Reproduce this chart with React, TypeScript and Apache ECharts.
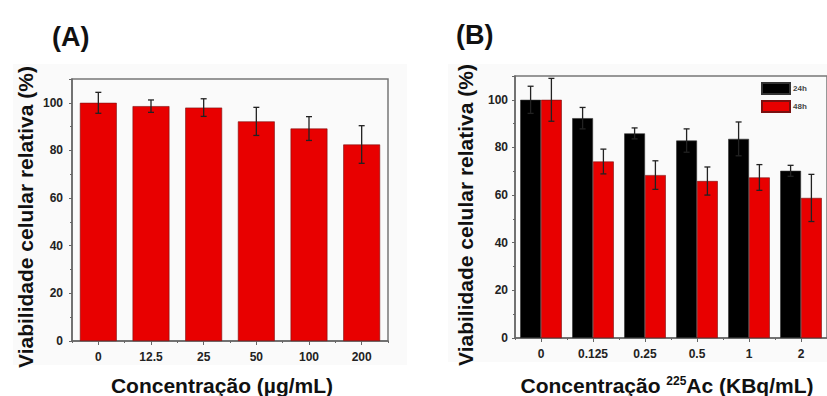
import React, { useEffect, useRef } from "react";
import * as echarts from "echarts";

const catsA = ["0", "12.5", "25", "50", "100", "200"];
const valsA = [100, 98.6, 98.0, 92.2, 89.2, 82.5];
const errA = [4.4, 2.6, 3.7, 5.9, 5.0, 7.9];

const catsB = ["0", "0.125", "0.25", "0.5", "1", "2"];
const vals24 = [100, 92.3, 85.9, 82.9, 83.6, 70.2];
const err24 = [5.7, 4.5, 2.3, 4.9, 7.1, 2.3];
const vals48 = [100, 74.1, 68.4, 65.9, 67.4, 58.8];
const err48 = [9.0, 5.2, 6.0, 5.9, 5.4, 9.9];

const yTicksMax = 110;
const FONT = "'Liberation Sans', Arial, sans-serif";
const RED = "#e80000";
const AXIS = "#666";

function errorSeries(vals: number[], errs: number[], xi: number, yi: number, offFrac: number) {
  return {
    type: "custom",
    xAxisIndex: xi,
    yAxisIndex: yi,
    z: 10,
    silent: true,
    encode: { x: 0, y: 1 },
    data: vals.map((v, i) => [i, v, errs[i]]),
    renderItem: (params: any, api: any) => {
      const idx = api.value(0);
      const v = api.value(1);
      const e = api.value(2);
      const cw = api.size([1, 0])[0];
      const top = api.coord([idx, v + e]);
      const bot = api.coord([idx, v - e]);
      const x = top[0] + offFrac * cw;
      const cap = 3;
      const st = { stroke: "#222", lineWidth: 1.3 };
      return {
        type: "group",
        children: [
          { type: "line", shape: { x1: x, y1: top[1], x2: x, y2: bot[1] }, style: st },
          { type: "line", shape: { x1: x - cap, y1: top[1], x2: x + cap, y2: top[1] }, style: st },
          { type: "line", shape: { x1: x - cap, y1: bot[1], x2: x + cap, y2: bot[1] }, style: st },
        ],
      };
    },
  };
}

function yAxis(gridIndex: number, margin: number) {
  return {
    type: "value",
    gridIndex,
    min: 0,
    max: yTicksMax,
    interval: 20,
    axisLine: { show: true, lineStyle: { color: AXIS, width: 1.5 } },
    axisTick: { show: true, inside: false, length: 3, lineStyle: { color: AXIS } },
    minorTick: { show: true, splitNumber: 2, length: 2, lineStyle: { color: AXIS } },
    splitLine: { show: false },
    axisLabel: {
      margin,
      fontFamily: FONT,
      fontWeight: "bold",
      fontSize: 12,
      color: "#222",
      formatter: (v: number) => (v > 100 ? "" : String(v)),
    },
  };
}

function xAxes(gridIndex: number, cats: string[]) {
  return [
    {
      type: "category",
      gridIndex,
      data: cats,
      position: "bottom",
      axisLine: { show: true, lineStyle: { color: AXIS, width: 1.5 } },
      axisTick: { show: true, alignWithLabel: true, length: 4, lineStyle: { color: AXIS } },
      axisLabel: { margin: 10, fontFamily: FONT, fontWeight: "bold", fontSize: 12, color: "#222" },
    },
    {
      type: "category",
      gridIndex,
      data: cats,
      position: "bottom",
      axisLine: { show: false },
      axisTick: { show: true, alignWithLabel: false, length: 2, lineStyle: { color: AXIS } },
      axisLabel: { show: false },
    },
  ];
}

export default function App() {
  const ref = useRef<HTMLDivElement>(null);
  useEffect(() => {
    if (!ref.current) return;
    const chart = echarts.init(ref.current, null, { renderer: "svg" });
    const titleStyle = { fontFamily: FONT, fontWeight: "bold", fontSize: 21, fill: "#111" };
    chart.setOption({
      animation: false,
      backgroundColor: "#fff",
      grid: [
        { left: 72, top: 79, right: 439, bottom: 55, show: true, borderColor: "#777", borderWidth: 1.5, backgroundColor: "transparent" },
        { left: 515, top: 76, right: -3, bottom: 58, show: true, borderColor: "#777", borderWidth: 1.5, backgroundColor: "transparent" },
      ],
      legend: {
        data: ["24h", "48h"],
        orient: "vertical",
        left: 761,
        top: 82,
        padding: 0,
        itemWidth: 28,
        itemHeight: 11,
        itemGap: 5,
        icon: "rect",
        selectedMode: false,
        textStyle: { fontFamily: FONT, fontWeight: "bold", fontSize: 8, color: "#444", padding: [0, 0, 0, -2] },
      },
      xAxis: [...xAxes(0, catsA), ...xAxes(1, catsB)],
      yAxis: [yAxis(0, 9), yAxis(1, 7)],
      series: [
        {
          type: "bar",
          name: "A",
          xAxisIndex: 0,
          yAxisIndex: 0,
          data: valsA,
          barCategoryGap: "30%",
          itemStyle: { color: RED, borderColor: "#7a1010", borderWidth: 0.6 },
        },
        errorSeries(valsA, errA, 0, 0, 0),
        {
          type: "bar",
          name: "24h",
          xAxisIndex: 2,
          yAxisIndex: 1,
          data: vals24,
          barCategoryGap: "20%",
          barGap: "0%",
          itemStyle: { color: "#000", borderColor: "#333", borderWidth: 0.6 },
        },
        {
          type: "bar",
          name: "48h",
          xAxisIndex: 2,
          yAxisIndex: 1,
          data: vals48,
          barCategoryGap: "20%",
          barGap: "0%",
          itemStyle: { color: RED, borderColor: "#7a1010", borderWidth: 0.6 },
        },
        errorSeries(vals24, err24, 2, 1, -0.2),
        errorSeries(vals48, err48, 2, 1, 0.2),
      ],
      graphic: [
        { type: "rect", z: -10, shape: { x: 13, y: 64, width: 394, height: 301 }, style: { fill: "#fafafa" } },
        { type: "rect", z: -10, shape: { x: 448, y: 64, width: 379, height: 298 }, style: { fill: "#fafafa" } },
        { type: "text", x: 52, y: 23, style: { text: "(A)", fontFamily: FONT, fontWeight: "bold", fontSize: 27, fill: "#111" } },
        { type: "text", x: 456, y: 21, style: { text: "(B)", fontFamily: FONT, fontWeight: "bold", fontSize: 27, fill: "#111" } },
        {
          type: "text",
          x: 25,
          y: 217,
          rotation: Math.PI / 2,
          style: { ...titleStyle, text: "Viabilidade celular relativa (%)", align: "center", verticalAlign: "middle" },
        },
        {
          type: "text",
          x: 465,
          y: 215,
          rotation: Math.PI / 2,
          style: { ...titleStyle, text: "Viabilidade celular relativa (%)", align: "center", verticalAlign: "middle" },
        },
        {
          type: "text",
          x: 222,
          y: 385,
          style: { ...titleStyle, text: "Concentração (µg/mL)", align: "center", verticalAlign: "middle" },
        },
        {
          type: "text",
          x: 667,
          y: 385,
          style: {
            ...titleStyle,
            text: "Concentração {sup|225}Ac (KBq/mL)",
            align: "center",
            verticalAlign: "middle",
            rich: {
              sup: { fontFamily: FONT, fontWeight: "bold", fontSize: 12, fill: "#111", verticalAlign: "top", padding: [0, 0, 8, 0] },
            },
          },
        },
      ],
    });
    return () => chart.dispose();
  }, []);
  return <div ref={ref} style={{ position: "fixed", left: 0, top: 0, width: 827, height: 396 }} />;
}
